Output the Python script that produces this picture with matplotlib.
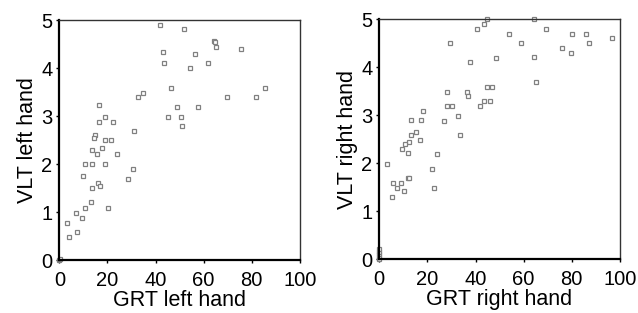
import numpy as np
import matplotlib.pyplot as plt

plt.rcParams['font.family'] = ['Liberation Sans', 'DejaVu Sans']

# GRT / VLT values, left hand
grt_left = [41.7, 51.7, 64.5, 64.7, 65.2, 75.4, 43.2, 56.6, 43.6, 61.8,
            54.2, 34.7, 32.7, 46.5, 69.7, 81.6, 85.6, 48.8, 57.5, 45.2,
            50.5, 51.2, 31.0, 16.5, 19.1, 16.5, 22.4, 14.7, 14.5, 18.8,
            21.5, 17.8, 13.6, 15.8, 24.1, 10.8, 13.6, 19.1, 30.7, 9.8,
            28.4, 16.1, 16.8, 13.6, 13.2, 10.8, 20.3, 6.9, 9.5, 3.2,
            7.2, 4.1, 0.0, 0.3]
vlt_left = [4.89, 4.81, 4.57, 4.55, 4.44, 4.40, 4.34, 4.29, 4.11, 4.11,
            4.01, 3.49, 3.40, 3.59, 3.40, 3.40, 3.59, 3.19, 3.19, 2.99,
            2.99, 2.79, 2.69, 3.22, 2.99, 2.88, 2.88, 2.60, 2.55, 2.50,
            2.50, 2.33, 2.30, 2.20, 2.20, 2.00, 2.00, 2.00, 1.90, 1.76,
            1.69, 1.60, 1.55, 1.50, 1.21, 1.08, 1.08, 0.98, 0.88, 0.77,
            0.58, 0.48, 0.00, 0.02]

# GRT / VLT values, right hand
grt_right = [40.6, 43.6, 44.9, 64.4, 54.0, 69.2, 80.2, 86.1, 29.4, 58.9,
             87.0, 96.7, 75.9, 79.7, 64.2, 48.7, 37.7, 65.2, 44.7, 46.9,
             28.0, 36.4, 37.0, 43.6, 45.9, 42.0, 28.0, 30.4, 18.2, 32.7,
             13.2, 17.5, 26.8, 15.4, 13.2, 33.7, 16.8, 12.5, 10.6, 9.4,
             11.8, 24.1, 3.2, 21.8, 11.8, 12.4, 5.8, 9.2, 7.5, 22.8,
             10.1, 5.2, 0.0, 0.0, 0.0, 0.0, 0.0]
vlt_right = [4.80, 4.90, 5.00, 5.00, 4.70, 4.80, 4.70, 4.70, 4.50, 4.50,
             4.50, 4.60, 4.40, 4.30, 4.22, 4.20, 4.11, 3.69, 3.58, 3.58,
             3.49, 3.49, 3.39, 3.29, 3.29, 3.19, 3.19, 3.19, 3.09, 2.99,
             2.89, 2.89, 2.87, 2.65, 2.59, 2.59, 2.49, 2.45, 2.39, 2.29,
             2.21, 2.19, 1.98, 1.88, 1.68, 1.68, 1.59, 1.59, 1.49, 1.49,
             1.42, 1.29, 0.00, 0.05, 0.10, 0.15, 0.20]

panels = [
    (grt_left, vlt_left, "GRT left hand", "VLT left hand", [0.093, 0.169, 0.377, 0.767]),
    (grt_right, vlt_right, "GRT right hand", "VLT right hand", [0.5945, 0.1725, 0.377, 0.766]),
]

fig = plt.figure(figsize=(6.38, 3.13), dpi=100)

for grt, vlt, xl, yl, rect in panels:
    ax = fig.add_axes(rect)
    ax.plot(grt, vlt, linestyle='none', marker='s', markersize=3.2,
            markerfacecolor='white', markeredgecolor='#808080',
            markeredgewidth=0.9, clip_on=False)
    ax.set_xlim(0, 100)
    ax.set_ylim(0, 5)
    ax.set_xticks([0, 20, 40, 60, 80, 100])
    ax.set_yticks([0, 1, 2, 3, 4, 5])
    ax.tick_params(labelsize=14.5, length=2, width=1)
    ax.tick_params(axis='x', pad=6)
    ax.tick_params(axis='y', pad=3)
    ax.set_xlabel(xl, fontsize=15.5, labelpad=0)
    ax.set_ylabel(yl, fontsize=15.5, labelpad=2)
    for side in ['left', 'bottom']:
        ax.spines[side].set_linewidth(1.6)
    for side in ['top', 'right']:
        ax.spines[side].set_linewidth(1.0)
        ax.spines[side].set_color('#333333')

fig.savefig('out.png', dpi=100)
